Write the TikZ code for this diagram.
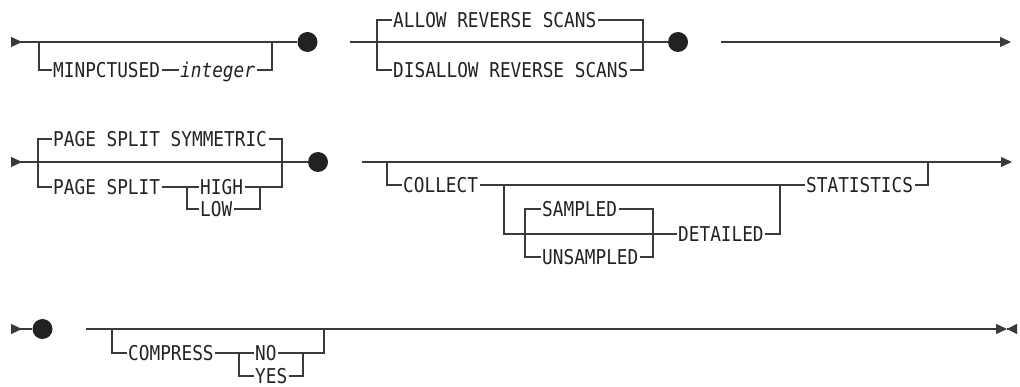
\documentclass[tikz,border=0pt]{standalone}
\usepackage{fontspec}
\setmonofont[FakeStretch=0.87]{DejaVu Sans Mono}
\usepackage{tikz}
\usetikzlibrary{arrows.meta}

\definecolor{railgray}{HTML}{3A3A3A}
\definecolor{inkgray}{HTML}{222222}

\tikzstyle{rail} = [draw=railgray, line width=1.3pt]
\tikzstyle{kw} = [anchor=west, inner xsep=1.5pt, inner ysep=0pt,
    text height=15pt, text depth=0pt, text=inkgray,
    font=\ttfamily\fontsize{20.4}{21}\selectfont]
\tikzstyle{dot} = [circle, fill=inkgray, minimum size=20pt, inner sep=0pt]
\tikzstyle{railstart} = [rail, {Triangle[reversed,length=11pt,width=10pt]}-]
\tikzstyle{railnext} = [rail, -{Triangle[length=11pt,width=10pt]}]
\tikzstyle{railstop} = [rail, -{Triangle[reversed,length=10pt,width=10pt]}]

\begin{document}
\begin{tikzpicture}[x=1pt, y=-1pt]

    \useasboundingbox (0,0) rectangle (1020,387);

    % Place nodes: first line
    \coordinate (s1) at (11,42);
    \node [dot] (d1) at (307.5,42) {};
    \node [kw] (minpct) at (51.5,70) {MINPCTUSED};
    \node [kw] (integer) at (178.5,70) {\itshape integer};
    \coordinate (j1a) at (39,42);
    \coordinate (j1b) at (272,42);

    \coordinate (r1b) at (350,42);
    \node [dot] (d2) at (678,42) {};
    \node [kw] (allow) at (391.5,20) {ALLOW REVERSE SCANS};
    \node [kw] (disallow) at (391.5,70) {DISALLOW REVERSE SCANS};
    \coordinate (j2a) at (377,42);
    \coordinate (j2b) at (643,42);

    \coordinate (r1c) at (721,42);
    \coordinate (r1e) at (1011,42);

    % Draw edges: first line
    \path [railstart] (s1) -- (d1);
    \path [rail] (j1a) |- (minpct.west);
    \path [rail] (minpct.east) -- (integer.west);
    \path [rail] (integer.east) -| (j1b);

    \path [rail] (r1b) -- (d2);
    \path [rail] (j2a) |- (allow.west);
    \path [rail] (allow.east) -| (j2b);
    \path [rail] (j2a) |- (disallow.west);
    \path [rail] (disallow.east) -| (j2b);

    \path [railnext] (r1c) -- (r1e);

    % Place nodes: second line
    \coordinate (s2) at (11,162);
    \node [dot] (d3) at (318,162) {};
    \node [kw] (symm) at (51.5,139) {PAGE SPLIT SYMMETRIC};
    \node [kw] (split) at (51.5,187) {PAGE SPLIT};
    \node [kw] (high) at (198.5,187) {HIGH};
    \node [kw] (low) at (198.5,209) {LOW};
    \coordinate (j3a) at (38,162);
    \coordinate (j3b) at (282,162);
    \coordinate (j3c) at (187,187);
    \coordinate (j3d) at (260,187);

    \coordinate (r2b) at (362,162);
    \coordinate (r2e) at (1012,162);
    \node [kw] (collect) at (401.5,185) {COLLECT};
    \node [kw] (sampled) at (540.5,209) {SAMPLED};
    \node [kw] (unsampled) at (540.5,257) {UNSAMPLED};
    \node [kw] (detailed) at (676.5,234) {DETAILED};
    \node [kw] (statistics) at (804.5,185) {STATISTICS};
    \coordinate (j4a) at (387,162);
    \coordinate (j4b) at (928,162);
    \coordinate (j4c) at (504,185);
    \coordinate (j4d) at (780,185);
    \coordinate (j4e) at (525,234);
    \coordinate (j4f) at (653,234);

    % Draw edges: second line
    \path [railstart] (s2) -- (d3);
    \path [rail] (j3a) |- (symm.west);
    \path [rail] (symm.east) -| (j3b);
    \path [rail] (j3a) |- (split.west);
    \path [rail] (split.east) -- (high.west);
    \path [rail] (high.east) -| (j3b);
    \path [rail] (j3c) |- (low.west);
    \path [rail] (low.east) -| (j3d);

    \path [railnext] (r2b) -- (r2e);
    \path [rail] (j4a) |- (collect.west);
    \path [rail] (collect.east) -- (statistics.west);
    \path [rail] (j4c) |- (detailed.west);
    \path [rail] (detailed.east) -| (j4d);
    \path [rail] (j4e) |- (sampled.west);
    \path [rail] (sampled.east) -| (j4f);
    \path [rail] (j4e) |- (unsampled.west);
    \path [rail] (unsampled.east) -| (j4f);
    \path [rail] (statistics.east) -| (j4b);

    % Place nodes: third line
    \coordinate (s3) at (11,329);
    \node [dot] (d4) at (42.5,329) {};
    \coordinate (r3b) at (86,329);
    \coordinate (e3) at (1007,329);
    \coordinate (e4) at (1017,329);
    \node [kw] (compress) at (126.5,353) {COMPRESS};
    \node [kw] (no) at (253.5,353) {NO};
    \node [kw] (yes) at (253.5,376) {YES};
    \coordinate (j5a) at (112,329);
    \coordinate (j5b) at (324,329);
    \coordinate (j5c) at (239,353);
    \coordinate (j5d) at (303,353);

    % Draw edges: third line
    \path [railstart] (s3) -- (d4);
    \path [railnext] (r3b) -- (e3);
    \path [railstop] (e3) -- (e4);
    \path [rail] (j5a) |- (compress.west);
    \path [rail] (compress.east) -- (no.west);
    \path [rail] (no.east) -| (j5b);
    \path [rail] (j5c) |- (yes.west);
    \path [rail] (yes.east) -| (j5d);

\end{tikzpicture}
\end{document}
